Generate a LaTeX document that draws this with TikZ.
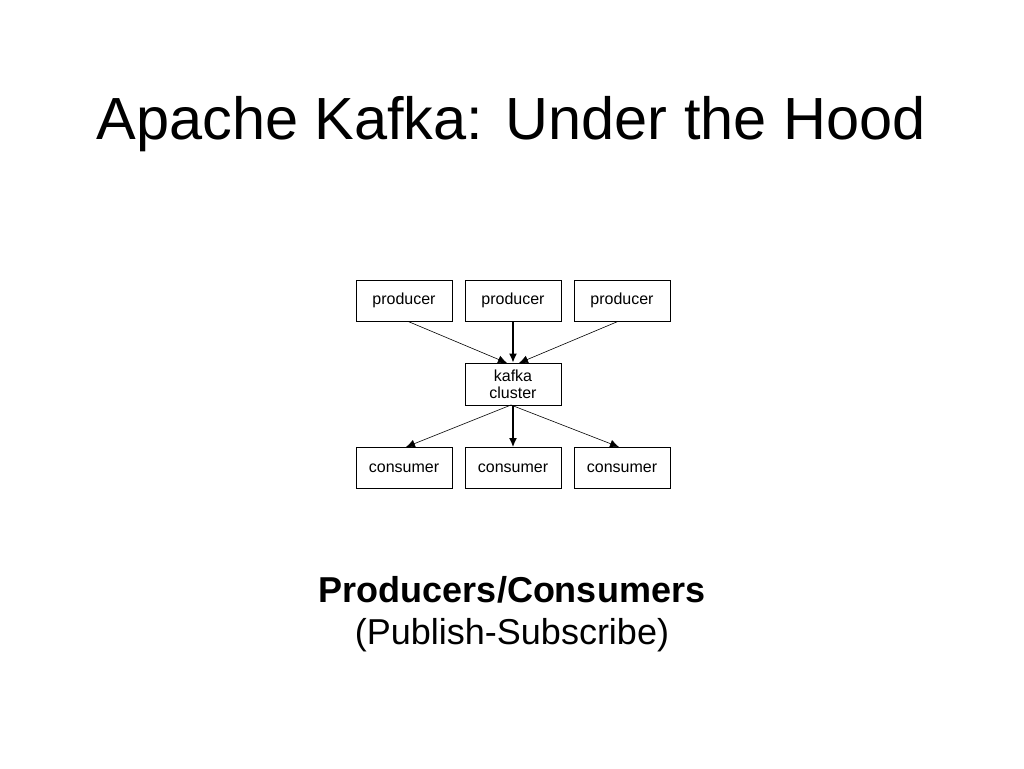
\documentclass[tikz,border=0pt]{standalone}
\usepackage{fontspec}
\setmainfont{Liberation Sans}
\usetikzlibrary{arrows.meta}
\begin{document}
\begin{tikzpicture}[x=1pt,y=-1pt,
  box/.style={draw,line width=0.8pt,minimum width=96pt,minimum height=41pt,inner sep=0pt,align=center,font=\fontsize{16}{17}\selectfont},
  arr/.style={-{Latex[length=9pt,width=8pt]},line width=0.6pt},
  arrb/.style={-{Latex[length=9pt,width=8pt]},line width=1.4pt}]
\useasboundingbox (0,0) rectangle (1024,768);
\node (title) at (511,124) {\fontsize{59.5}{66}\selectfont Apache Kafka: Under the Hood};
\node[box] (p1) at (404,300.5) {producer};
\node[box] (p2) at (513,300.5) {producer};
\node[box] (p3) at (622,300.5) {producer};
\node[box,minimum height=42pt] (k) at (513,384) {kafka\\cluster};
\node[box] (c1) at (404,468) {consumer};
\node[box] (c2) at (513,468) {consumer};
\node[box] (c3) at (622,468) {consumer};
\coordinate (kt1) at (507,363);
\coordinate (kt3) at (519,363);
\coordinate (kb) at (511,405);
\coordinate (c1t) at (406,447);
\coordinate (c3t) at (619,447);
\draw[arr] (p1.south) ++(4,0) coordinate (p1s) (p1s) -- (kt1);
\draw[arrb] (p2) -- (k);
\draw[arr] (p3.south) ++(-4,0) coordinate (p3s) (p3s) -- (kt3);
\draw[arr] (kb) -- (c1t);
\draw[arrb] (k) -- (c2);
\draw[arr] (kb) -- (c3t);
\node[font=\fontsize{36}{40}\selectfont\bfseries] (cap1) at (512,590) {Producers/Consumers};
\node[font=\fontsize{36}{40}\selectfont] (cap2) at (512,635) {(Publish-Subscribe)};
\end{tikzpicture}
\end{document}
